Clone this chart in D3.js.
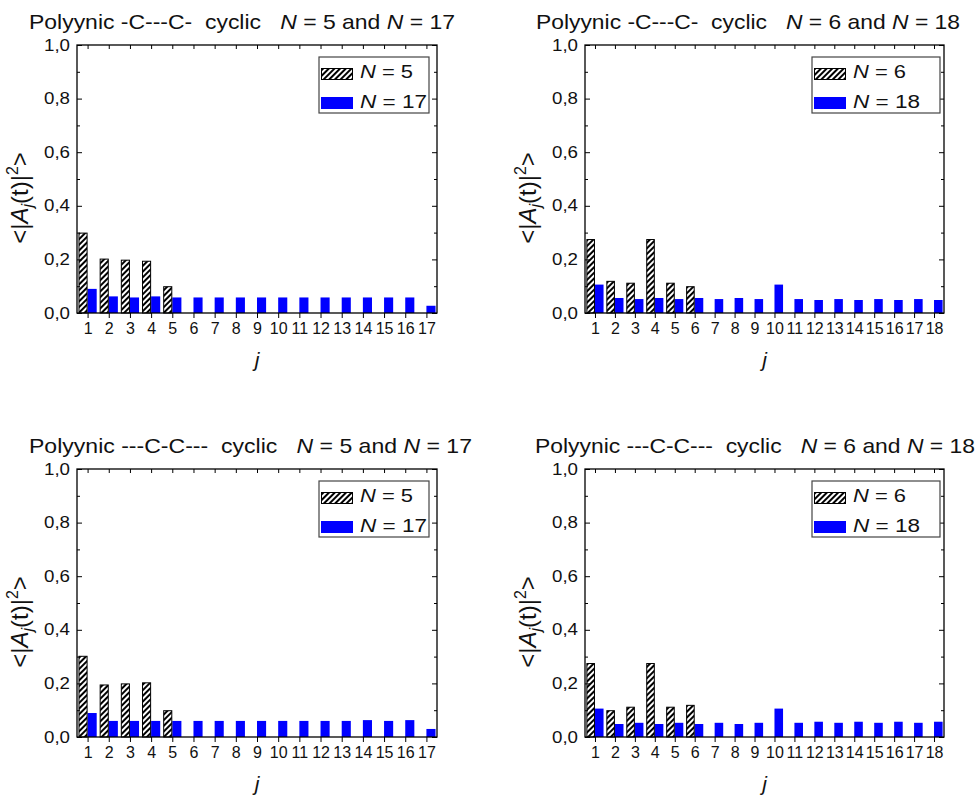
<!DOCTYPE html>
<html><head><meta charset="utf-8">
<script src="https://cdn.jsdelivr.net/npm/d3@7"></script>
<style>
html,body{margin:0;padding:0;background:#fff;}
text{font-family:"Liberation Sans",Arial,sans-serif;fill:#111;}
</style></head>
<body><svg id="c" width="980" height="798"></svg>
<script>
// ---- data ----
const titles = [
  ["Polyynic -C---C-  cyclic   ", "5", "17"],
  ["Polyynic -C---C-  cyclic   ", "6", "18"],
  ["Polyynic ---C-C---  cyclic   ", "5", "17"],
  ["Polyynic ---C-C---  cyclic   ", "6", "18"]
];
const yTicks = [0, 0.2, 0.4, 0.6, 0.8, 1.0];
const yMinor = [0.1, 0.3, 0.5, 0.7, 0.9];
// top-left: N=5 and N=17
const p1Small = [0.30, 0.203, 0.199, 0.195, 0.10];
const p1Big = [0.09, 0.062, 0.058, 0.062, 0.058, 0.058, 0.058, 0.058, 0.058, 0.058, 0.058, 0.058, 0.058, 0.058, 0.058, 0.058, 0.027];
// top-right: N=6 and N=18
const p2Small = [0.276, 0.12, 0.113, 0.276, 0.113, 0.10];
const p2Big = [0.106, 0.056, 0.052, 0.056, 0.052, 0.056, 0.052, 0.056, 0.052, 0.106, 0.052, 0.0485, 0.052, 0.0485, 0.052, 0.0485, 0.052, 0.0485];
// bottom-left: N=5 and N=17
const p3Small = [0.303, 0.196, 0.20, 0.204, 0.10];
const p3Big = [0.0895, 0.06, 0.06, 0.06, 0.06, 0.06, 0.06, 0.06, 0.06, 0.06, 0.06, 0.06, 0.06, 0.063, 0.06, 0.063, 0.03];
// bottom-right: N=6 and N=18
const p4Small = [0.276, 0.10, 0.113, 0.276, 0.113, 0.12];
const p4Big = [0.106, 0.0485, 0.053, 0.0485, 0.053, 0.0485, 0.053, 0.0485, 0.053, 0.106, 0.053, 0.057, 0.053, 0.057, 0.053, 0.057, 0.053, 0.057];

// ---- layout ----
const panels = [
  {L:77, R:437, T:45, B:313, small:p1Small, big:p1Big, title:titles[0], tx:29, ty:29, tw:426, legR:8, legW:110},
  {L:585, R:944, T:45, B:313, small:p2Small, big:p2Big, title:titles[1], tx:536, ty:29, tw:424, legR:4, legW:128},
  {L:77, R:437, T:469, B:737, small:p3Small, big:p3Big, title:titles[2], tx:29, ty:453, tw:443, legR:8, legW:110},
  {L:585, R:944, T:469, B:737, small:p4Small, big:p4Big, title:titles[3], tx:535, ty:453, tw:440, legR:4, legW:128}
];

const svg = d3.select("#c");
const defs = svg.append("defs");
const pat = defs.append("pattern").attr("id","hatch").attr("patternUnits","userSpaceOnUse")
  .attr("width",4).attr("height",4).attr("patternTransform","rotate(45)");
pat.append("rect").attr("width",4).attr("height",4).attr("fill","#fff");
pat.append("rect").attr("width",2).attr("height",4).attr("fill","#000");

const fmt = d => d.toFixed(1).replace(".", ",");
const blue = "#0000ff";

panels.forEach(p => {
  const n = p.big.length;
  const cats = d3.range(1, n+1);
  const x = d3.scaleLinear().domain([0.5, n+0.5]).range([p.L, p.R]);
  const y = d3.scaleLinear().domain([0, 1]).range([p.B, p.T]);
  const bw = (x(2)-x(1))*0.43;
  const g = svg.append("g");

  // title
  const t = g.append("text").attr("x", p.tx).attr("y", p.ty).attr("font-size", 21)
    .attr("textLength", p.tw).attr("lengthAdjust","spacingAndGlyphs")
    .style("white-space","pre");
  t.append("tspan").text(p.title[0]);
  t.append("tspan").attr("font-style","italic").text("N");
  t.append("tspan").text(" = " + p.title[1] + " and ");
  t.append("tspan").attr("font-style","italic").text("N");
  t.append("tspan").text(" = " + p.title[2]);

  // bars
  g.selectAll(".bb").data(p.big).join("rect")
    .attr("x", (d,i) => x(i+1)).attr("width", bw)
    .attr("y", d => y(d)).attr("height", d => y(0)-y(d))
    .attr("fill", blue);
  g.selectAll(".hb").data(p.small).join("rect")
    .attr("x", (d,i) => x(i+1)-bw+0.5).attr("width", bw-1)
    .attr("y", d => y(d)+0.5).attr("height", d => y(0)-y(d)-0.5)
    .attr("fill", "url(#hatch)").attr("stroke","#000").attr("stroke-width",1);

  // axes
  const ax = g.append("g").attr("class","axes");
  const left = ax.append("g").attr("transform",`translate(${p.L},0)`)
    .call(d3.axisLeft(y).tickValues(yTicks).tickFormat(fmt).tickSizeInner(-5).tickSizeOuter(0).tickPadding(6));
  ax.append("g").attr("transform",`translate(${p.L},0)`)
    .call(d3.axisLeft(y).tickValues(yMinor).tickFormat("").tickSizeInner(-3).tickSizeOuter(0));
  ax.append("g").attr("transform",`translate(${p.R},0)`)
    .call(d3.axisRight(y).tickValues(yTicks).tickFormat("").tickSizeInner(-5).tickSizeOuter(0));
  ax.append("g").attr("transform",`translate(${p.R},0)`)
    .call(d3.axisRight(y).tickValues(yMinor).tickFormat("").tickSizeInner(-3).tickSizeOuter(0));
  const bottom = ax.append("g").attr("transform",`translate(0,${p.B})`)
    .call(d3.axisBottom(x).tickValues(cats).tickFormat(d3.format("d")).tickSizeInner(5).tickSizeOuter(0).tickPadding(5));
  ax.append("g").attr("transform",`translate(0,${p.T})`)
    .call(d3.axisTop(x).tickValues(cats).tickFormat("").tickSizeInner(-4).tickSizeOuter(0));
  ax.selectAll(".domain").remove();
  ax.selectAll("line").attr("stroke","#000");
  ax.selectAll("text").attr("font-size",16).attr("font-family","Liberation Sans, Arial, sans-serif").attr("fill","#111");
  left.selectAll("text").attr("textLength",26).attr("lengthAdjust","spacingAndGlyphs").attr("x",-7);
  g.append("rect").attr("x",p.L).attr("y",p.T).attr("width",p.R-p.L).attr("height",p.B-p.T)
    .attr("fill","none").attr("stroke","#000").attr("stroke-width",1.3);

  // y label
  const yl = g.append("text").attr("transform",`translate(${p.L-49},${(p.T+p.B)/2+19}) rotate(-90)`)
    .attr("text-anchor","middle").attr("font-size",24);
  yl.append("tspan").text("<|");
  yl.append("tspan").attr("font-style","italic").text("A");
  yl.append("tspan").attr("font-style","italic").attr("font-size",16).attr("dy",5).text("j");
  yl.append("tspan").attr("dy",-5).text("(t)|");
  yl.append("tspan").attr("font-size",16).attr("dy",-10).text("2");
  yl.append("tspan").attr("dy",10).text(">");

  // x label
  g.append("text").attr("x",(p.L+p.R)/2).attr("y",p.B+54).attr("text-anchor","middle")
    .attr("font-size",21).attr("font-style","italic").text("j");

  // legend
  const lx = p.R - p.legR - p.legW, ly = p.T + 12;
  const lg = g.append("g");
  lg.append("rect").attr("x",lx).attr("y",ly).attr("width",p.legW).attr("height",56)
    .attr("fill","#fff").attr("stroke","#444").attr("stroke-width",1.2);
  lg.append("rect").attr("x",lx+2.5).attr("y",ly+11.5).attr("width",31).attr("height",11)
    .attr("fill","url(#hatch)").attr("stroke","#000");
  lg.append("rect").attr("x",lx+2).attr("y",ly+40).attr("width",32).attr("height",12).attr("fill",blue);
  [[p.title[1], ly+21, 53], [p.title[2], ly+51, 67]].forEach(([v, yy, w]) => {
    const tt = lg.append("text").attr("x", lx+41).attr("y", yy).attr("font-size",18)
      .attr("textLength", w).attr("lengthAdjust","spacingAndGlyphs").style("white-space","pre");
    tt.append("tspan").attr("font-style","italic").text("N");
    tt.append("tspan").text(" = " + v);
  });
});
</script></body></html>
